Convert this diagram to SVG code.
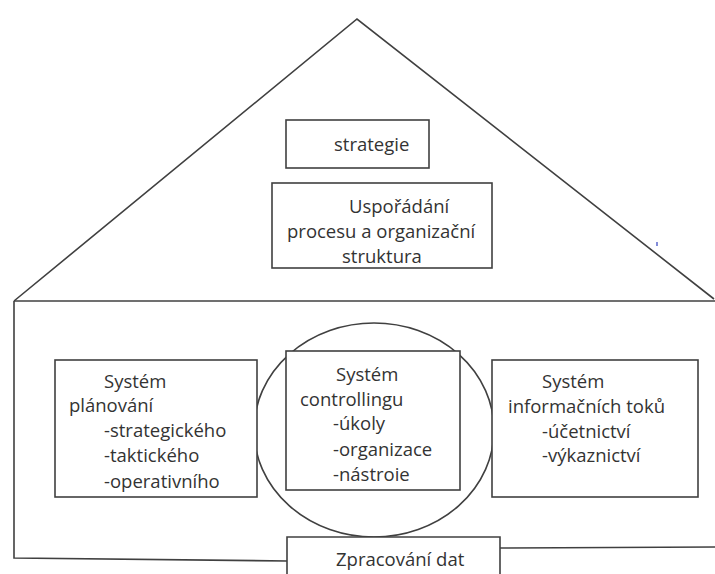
<svg xmlns="http://www.w3.org/2000/svg" width="715" height="574" viewBox="0 0 715 574">
<style>
.ln{fill:none;stroke:#404040;stroke-width:1.6}
.bx{fill:#fff;stroke:#404040;stroke-width:1.6}
text{font-family:"Open Sans","Noto Sans","Liberation Sans",sans-serif;font-size:18.5px;fill:#333}
</style>
<defs>
<clipPath id="clipL"><rect x="56" y="361" width="200" height="131"/></clipPath>
<clipPath id="clipC"><rect x="287" y="352" width="172" height="136"/></clipPath>
</defs>
<rect width="715" height="574" fill="#fff"/>
<g id="connectors">
<path class="ln" d="M14,301 L357,19 L714,299"/>
<path class="ln" d="M14,301 L715,301"/>
<path class="ln" d="M14,301 L14,558 L287,561"/>
<path class="ln" d="M500,548 L715,547"/>
<ellipse class="ln" cx="374" cy="430" rx="120" ry="107"/>
<path d="M657,242 L657,246" stroke="#3040c0" stroke-width="1.2"/>
</g>
<g id="strategie">
<rect class="bx" x="286" y="120" width="143" height="48"/>
<text x="334" y="151">strategie</text>
</g>
<g id="usporadani">
<rect class="bx" x="272" y="183" width="220" height="85"/>
<text x="349" y="213">Uspořádání</text>
<text x="287" y="238">procesu a organizační</text>
<text x="342" y="263">struktura</text>
</g>
<g id="planovani">
<rect class="bx" x="55" y="360" width="202" height="137"/>
<g clip-path="url(#clipL)">
<text x="104" y="388">Systém</text>
<text x="69" y="412">plánování</text>
<text x="104" y="437">-strategického</text>
<text x="104" y="462">-taktického</text>
<text x="104" y="488">-operativního</text>
</g>
</g>
<g id="controlling">
<rect class="bx" x="286" y="351" width="174" height="139"/>
<g clip-path="url(#clipC)">
<text x="336" y="381">Systém</text>
<text x="300" y="406">controllingu</text>
<text x="333" y="430">-úkoly</text>
<text x="333" y="456">-organizace</text>
<text x="333" y="481">-nástroie</text>
</g>
</g>
<g id="informacni">
<rect class="bx" x="492" y="360" width="206" height="137"/>
<text x="542" y="388">Systém</text>
<text x="508" y="413">informačních toků</text>
<text x="542" y="438">-účetnictví</text>
<text x="542" y="462">-výkaznictví</text>
</g>
<g id="zpracovani">
<path class="bx" d="M287,576 L287,537 L500,537 L500,576"/>
<text x="336" y="566">Zpracování dat</text>
</g>
</svg>
